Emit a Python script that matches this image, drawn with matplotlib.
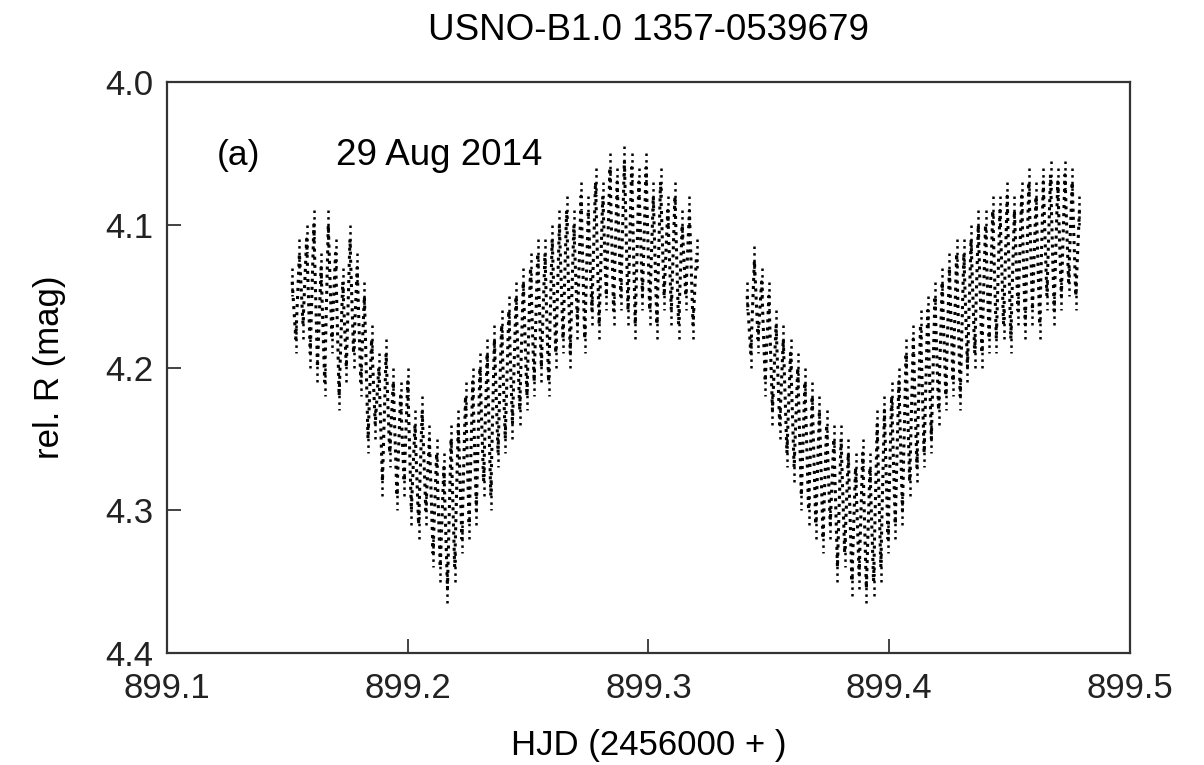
import numpy as np
import matplotlib
matplotlib.use("Agg")
import matplotlib.pyplot as plt

plt.rcParams['font.family'] = ['Liberation Sans', 'DejaVu Sans']

# Segment 1 (before gap)
t1_start = 899.152
t1_step = 0.0015
mag1 = [
    4.14, 4.18, 4.12, 4.17, 4.11,
    4.19, 4.10, 4.20, 4.13, 4.21,
    4.10, 4.18, 4.12, 4.22, 4.14,
    4.20, 4.11, 4.19, 4.13, 4.21,
    4.15, 4.25, 4.18, 4.24, 4.20,
    4.28, 4.19, 4.26, 4.21, 4.29,
    4.22, 4.28, 4.21, 4.30, 4.24,
    4.31, 4.23, 4.30, 4.25, 4.33,
    4.26, 4.34, 4.27, 4.355, 4.25,
    4.34, 4.24, 4.32, 4.22, 4.31,
    4.21, 4.30, 4.20, 4.28, 4.19,
    4.29, 4.18, 4.26, 4.17, 4.25,
    4.16, 4.24, 4.15, 4.23, 4.14,
    4.22, 4.13, 4.21, 4.12, 4.20,
    4.12, 4.21, 4.11, 4.19, 4.10,
    4.18, 4.09, 4.19, 4.10, 4.17,
    4.08, 4.18, 4.09, 4.16, 4.07,
    4.17, 4.08, 4.15, 4.06, 4.16,
    4.07, 4.15, 4.055, 4.16, 4.06,
    4.17, 4.07, 4.15, 4.06, 4.16,
    4.08, 4.17, 4.07, 4.15, 4.09,
    4.16, 4.08, 4.17, 4.10, 4.15,
    4.09, 4.17, 4.12,
]

# Segment 2 (after gap)
t2_start = 899.341
t2_step = 0.0015
mag2 = [
    4.15, 4.19, 4.125, 4.18, 4.14,
    4.21, 4.15, 4.23, 4.17, 4.24,
    4.18, 4.26, 4.19, 4.27, 4.20,
    4.29, 4.21, 4.30, 4.22, 4.31,
    4.23, 4.32, 4.24, 4.31, 4.25,
    4.34, 4.25, 4.33, 4.26, 4.35,
    4.27, 4.345, 4.26, 4.355, 4.27,
    4.35, 4.24, 4.34, 4.23, 4.32,
    4.22, 4.31, 4.21, 4.30, 4.19,
    4.28, 4.18, 4.27, 4.17, 4.26,
    4.16, 4.25, 4.15, 4.23, 4.14,
    4.22, 4.13, 4.21, 4.12, 4.22,
    4.12, 4.20, 4.11, 4.19, 4.10,
    4.19, 4.10, 4.18, 4.09, 4.18,
    4.09, 4.17, 4.08, 4.18, 4.09,
    4.16, 4.08, 4.17, 4.07, 4.16,
    4.08, 4.17, 4.07, 4.15, 4.065,
    4.16, 4.07, 4.15, 4.065, 4.14,
    4.07, 4.15, 4.09,
]

# typical photometric error (mag)
mag_err = 0.01

xticks = [899.1, 899.2, 899.3, 899.4, 899.5]
yticks = [4.0, 4.1, 4.2, 4.3, 4.4]

t1 = t1_start + t1_step * np.arange(len(mag1))
t2 = t2_start + t2_step * np.arange(len(mag2))

fig = plt.figure(figsize=(12.04, 7.65), dpi=100)
ax = fig.add_axes([0.1387, 0.1464, 0.7998, 0.7464])

for t, m in ((t1, mag1), (t2, mag2)):
    ax.plot(t, m, linestyle=':', color='black', linewidth=2.2)
    eb = ax.errorbar(t, m, yerr=mag_err, fmt='none', ecolor='black',
                     elinewidth=1.8, capsize=0)
    eb[2][0].set_linestyle(':')

ax.set_xlim(899.1, 899.5)
ax.set_ylim(4.4, 4.0)
ax.set_xticks(xticks)
ax.set_yticks(yticks)
ax.set_xticklabels([f"{v:.1f}" for v in xticks])
ax.set_yticklabels([f"{v:.1f}" for v in yticks])
ax.tick_params(direction='in', length=10, width=1.2, labelsize=25, pad=10,
               top=False, right=False, colors='#222222')
ax.tick_params(axis='x', pad=14)
for s in ax.spines.values():
    s.set_linewidth(1.6)
    s.set_color('#333333')

ax.set_xlabel("HJD (2456000 + )", fontsize=25, labelpad=17)
ax.set_ylabel("rel. R (mag)", fontsize=25, labelpad=28)
ax.set_title("USNO-B1.0 1357-0539679", fontsize=26.5, pad=30)

ax.text(0.052, 0.872, "(a)", transform=ax.transAxes, fontsize=25.5, va='center')
ax.text(0.175, 0.872, "29 Aug 2014", transform=ax.transAxes, fontsize=26.5, va='center')

fig.savefig("out.png", dpi=100)
